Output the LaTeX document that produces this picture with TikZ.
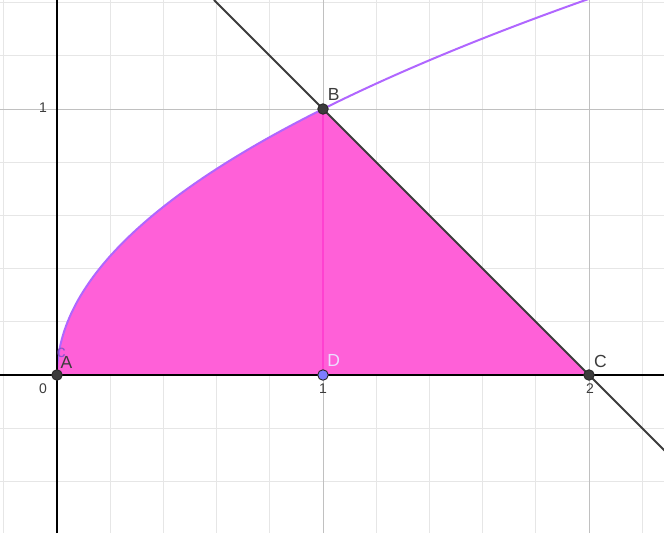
\documentclass[tikz,border=0pt]{standalone}
\usepackage{fontspec}
\setmainfont{Liberation Sans}
\usepackage{tikz}
\usetikzlibrary{calc}
\definecolor{gridmin}{HTML}{E6E6E6}
\definecolor{gridmaj}{HTML}{C0C0C0}
\definecolor{ink}{HTML}{3C3C3C}
\definecolor{region}{HTML}{FF60D8}
\definecolor{curve}{HTML}{B066FF}
\definecolor{seg}{HTML}{FF40D0}
\definecolor{ptD}{HTML}{7D7DFF}
\definecolor{dlabel}{HTML}{ECDDFF}

\begin{document}
\begin{tikzpicture}[x=266pt, y=266pt,
    pt/.style={circle, inner sep=0pt, minimum size=10.5pt, draw=ink!70!black, line width=0.9pt, fill=ink},
    ptlabel/.style={font=\fontsize{17.5}{20}\selectfont, text=ink},
    tick/.style={font=\fontsize{14}{16}\selectfont, text=ink}]
  \def\xmin{-0.2143}
  \def\xmax{2.282}
  \def\ymin{-0.594}
  \def\ymax{1.4098}
  \useasboundingbox (\xmin,\ymin) rectangle (\xmax,\ymax);
  \clip (\xmin,\ymin) rectangle (\xmax,\ymax);
  % grid
  \foreach \k in {-1,...,11}
    \draw[gridmin, line width=0.7pt] (\k*0.2,\ymin) -- (\k*0.2,\ymax);
  \foreach \k in {-3,...,7}
    \draw[gridmin, line width=0.7pt] (\xmin,\k*0.2) -- (\xmax,\k*0.2);
  \foreach \k in {1,2}
    \draw[gridmaj, line width=0.8pt] (\k,\ymin) -- (\k,\ymax);
  \draw[gridmaj, line width=0.8pt] (\xmin,1) -- (\xmax,1);

  \coordinate (A) at (0,0);
  \coordinate (B) at (1,1);
  \coordinate (C) at (2,0);
  \coordinate (D) at (1,0);
  \coordinate (top) at ($(B)!-0.41!(C)$);
  \coordinate (bot) at ($(B)!1.3!(C)$);

  % shaded region
  \fill[region] (A) plot[domain=0:1, samples=80] ({\x*\x},{\x}) -- (C) -- cycle;
  \draw[curve, line width=2pt] plot[domain=0:1.42, samples=120] ({\x*\x},{\x});

  % axes
  \draw[black, line width=1.6pt] (\xmin,0) -- (\xmax,0);
  \draw[black, line width=1.6pt] (0,\ymin) -- (0,\ymax);
  \node[tick] (t0) at (-0.053,-0.05) {0};
  \node[tick] (t1) at (1,-0.05) {1};
  \node[tick] (t2) at (2.004,-0.05) {2};
  \node[tick] (ty1) at (-0.053,1.004) {1};

  \draw[seg, line width=1.6pt] (D) -- (B);
  \draw[ink, line width=1.8pt] (top) -- (bot);

  % points
  \node[pt] (pA) at (A) {};
  \node[pt] (pB) at (B) {};
  \node[pt] (pC) at (C) {};
  \node[pt, fill=ptD] (pD) at (D) {};
  \node[font=\fontsize{17.5}{20}\selectfont, text=curve!80!black] (lc) at (0.016,0.082) {c};
  \node[ptlabel] (lA) at (0.036,0.047) {A};
  \node[ptlabel] (lB) at (1.04,1.053) {B};
  \node[ptlabel] (lC) at (2.043,0.05) {C};
  \node[ptlabel, text=dlabel] (lD) at (1.04,0.055) {D};
\end{tikzpicture}
\end{document}
